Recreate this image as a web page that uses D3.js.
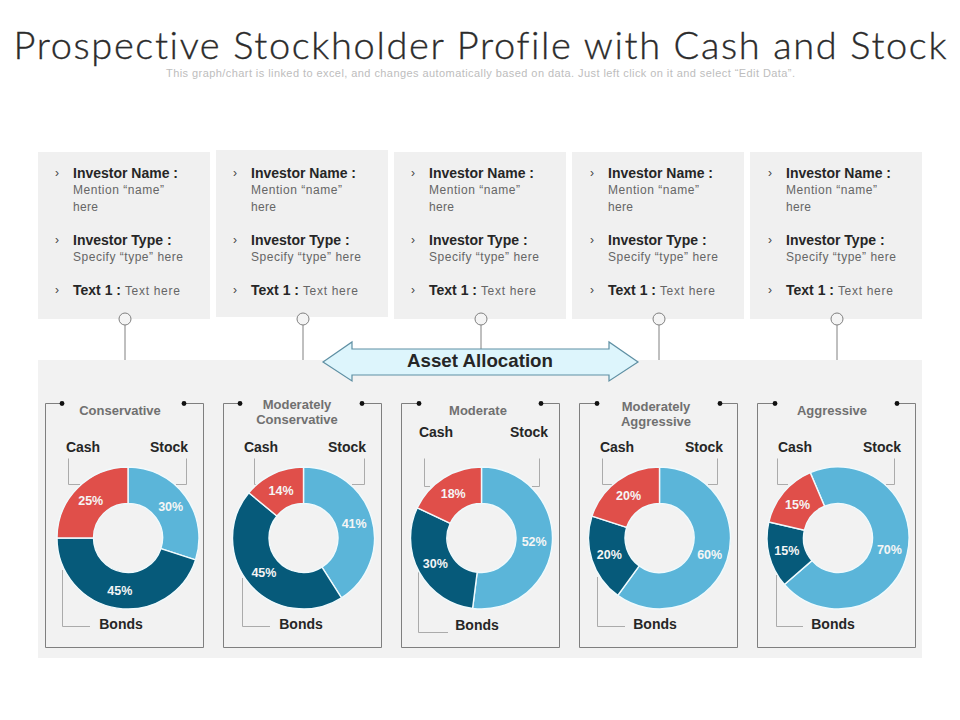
<!DOCTYPE html>
<html><head><meta charset="utf-8">
<script src="https://cdnjs.cloudflare.com/ajax/libs/d3/7.8.5/d3.min.js"></script>
<style>html,body{margin:0;padding:0;background:#fff}svg{display:block}text{font-family:"Liberation Sans",Arial,sans-serif}</style>
</head><body><svg id="c" width="960" height="720"></svg>
<script>
const profiles = [["Conservative"],["Moderately","Conservative"],["Moderate"],["Moderately","Aggressive"],["Aggressive"]];
const assets = ["Stock","Bonds","Cash"];
const stock = [30,41,52,60,70];
const bonds = [45,45,30,20,15];
const cash  = [25,14,18,20,15];
const titleText = "Prospective Stockholder Profile with Cash and Stock";
const subText = "This graph/chart is linked to excel, and changes automatically based on data. Just left click on it and select \u201CEdit Data\u201D.";

// layout (not data)
const color = d3.scaleOrdinal().domain(assets).range(["#5BB5D9","#065A7A","#E04F4A"]);
const col = d3.scaleLinear().domain([0,4]).range([0,712]);
const svg = d3.select("#c");
const cardTop = [152,150,152,152,152];
const textShift = [0,0,0,1,1];
const centers = [128,303.5,481.5,659.5,838];
const startDeg = [0,0,0,0,-23];
const stemX = [125,303,481,659,837];
const titleX = [120,297,478,656,832];
const titleY = [[415],[409,424],[414.5],[411,426],[414.5]];
const headY = [452,452,437,452,452];
const cashX = [83,261,436,617,795];
const stockX = [169,347,529,704,882];
const bondsX = [121,301,477,655,833];
const bondsY = [629,629,630,629,629];
const cashLead = [[68,80],[254,263],[424,430],[602,612],[777,788]];
const stockLead = [[186,176],[364,352],[539,532],[717,708],[894,886]];
const bondLead = [[62,90,570,626],[242,270,578,626],[418,448,572,632],[597,625,577,626],[776,803,575,626]];
const dots = [[62,184],[240,362],[419,541],[597,720],[775,897]];

svg.append("text").attr("x",480).attr("y",59).attr("text-anchor","middle")
  .attr("textLength",933).attr("lengthAdjust","spacing")
  .style("font-family","Lato").style("font-weight",300).style("font-variant-ligatures","none").style("font-size","38px")
  .attr("fill","#2b2b2b").attr("stroke","#2b2b2b").attr("stroke-width",0.35).text(titleText);
svg.append("text").attr("x",480.5).attr("y",77).attr("text-anchor","middle")
  .attr("textLength",629).attr("lengthAdjust","spacing")
  .style("font-size","11px").attr("fill","#bdbdbd").text(subText);

// cards
profiles.forEach((p,i)=>{
  const x = 38 + col(i);
  svg.append("rect").attr("x",x).attr("y",cardTop[i]).attr("width",172).attr("height",167).attr("fill","#F0F0F0");
  const g = svg.append("g").attr("transform",`translate(${x+textShift[i]},0)`);
  const bullet = y => g.append("text").attr("x",17).attr("y",y).attr("font-size",12).attr("fill","#444").text("\u203A");
  const bold = (s,y)=>g.append("text").attr("x",35).attr("y",y).attr("font-size",14).attr("font-weight",700).attr("fill","#262626").text(s);
  const reg = (s,y,len)=>g.append("text").attr("x",35).attr("y",y).attr("font-size",12).attr("fill","#666")
     .attr("textLength",len).attr("lengthAdjust","spacing").text(s);
  bullet(177); bold("Investor Name :",178);
  reg("Mention \u201Cname\u201D",194,91); reg("here",211,25);
  bullet(244); bold("Investor Type :",245);
  reg("Specify \u201Ctype\u201D here",261,110);
  bullet(294);
  const t = g.append("text").attr("x",35).attr("y",295).attr("font-size",14).attr("fill","#262626");
  t.append("tspan").attr("font-weight",700).text("Text 1 : ");
  t.append("tspan").attr("font-size",12).attr("fill","#666").attr("letter-spacing",0.7).text("Text here");
});

// panel
svg.append("rect").attr("x",38).attr("y",360).attr("width",884).attr("height",298).attr("fill","#F2F2F2");

// stems
stemX.forEach(x=>{
  svg.append("line").attr("x1",x).attr("x2",x).attr("y1",325).attr("y2",360).attr("stroke","#808080").attr("stroke-width",1);
  svg.append("circle").attr("cx",x).attr("cy",319).attr("r",6).attr("fill","#F4F4F4").attr("stroke","#808080").attr("stroke-width",1);
});

// arrow
svg.append("path")
 .attr("d","M323,362 L352,342 L352,349 L609,349 L609,342 L638,362 L609,381 L609,375 L352,375 L352,381 Z")
 .attr("fill","#DDF5FC").attr("stroke","#5E8FA3").attr("stroke-width",1.2);
svg.append("text").attr("x",480).attr("y",367).attr("text-anchor","middle").attr("font-size",19).attr("font-weight",700)
  .attr("textLength",146).attr("lengthAdjust","spacingAndGlyphs").attr("fill","#262626").text("Asset Allocation");

const arc = d3.arc().innerRadius(34.5).outerRadius(71);

profiles.forEach((p,i)=>{
  const fx = 45 + col(i);
  const [d1,d2] = dots[i];
  svg.append("path").attr("d",`M${d1},403.5 H${fx+.5} V647.5 H${fx+158.5} V403.5 H${d2}`)
    .attr("fill","none").attr("stroke","#7f7f7f").attr("stroke-width",1);
  [d1,d2].forEach(d=>svg.append("circle").attr("cx",d).attr("cy",403.5).attr("r",2.4).attr("fill","#111"));
  p.forEach((s,k)=>svg.append("text").attr("x",titleX[i]).attr("y",titleY[i][k]).attr("text-anchor","middle")
    .attr("font-size",13).attr("font-weight",700).attr("fill","#707070").text(s));
  const ly = i===2?486:484, ty = 458.5;
  const lead = d3.line();
  const lc = "#ababab";
  svg.append("path").attr("d",lead([[cashLead[i][0]+.5,ty],[cashLead[i][0]+.5,ly+.5],[cashLead[i][1],ly+.5]])).attr("fill","none").attr("stroke",lc);
  svg.append("path").attr("d",lead([[stockLead[i][0]+.5,ty],[stockLead[i][0]+.5,ly+.5],[stockLead[i][1],ly+.5]])).attr("fill","none").attr("stroke",lc);
  const b = bondLead[i];
  svg.append("path").attr("d",lead([[b[0]+.5,b[2]],[b[0]+.5,b[3]+.5],[b[1],b[3]+.5]])).attr("fill","none").attr("stroke",lc);
  const head = (s,x,y)=>svg.append("text").attr("x",x).attr("y",y).attr("text-anchor","middle").attr("font-size",14).attr("font-weight",700).attr("fill","#262626").text(s);
  head("Cash",cashX[i],headY[i]); head("Stock",stockX[i],headY[i]); head("Bonds",bondsX[i],bondsY[i]);
  const rows = [{k:"Stock",v:stock[i]},{k:"Bonds",v:bonds[i]},{k:"Cash",v:cash[i]}];
  const a0 = startDeg[i]*Math.PI/180;
  const pie = d3.pie().sort(null).value(d=>d.v).startAngle(a0).endAngle(a0+2*Math.PI);
  const g = svg.append("g").attr("transform",`translate(${centers[i]},538)`);
  const arcs = pie(rows);
  g.selectAll("path").data(arcs).join("path").attr("d",arc).attr("fill",d=>color(d.data.k))
    .attr("stroke","#F0FAFD").attr("stroke-width",1.4);
  g.selectAll("text").data(arcs).join("text")
    .attr("transform",d=>`translate(${arc.centroid(d)})`)
    .attr("text-anchor","middle").attr("dy","0.36em")
    .attr("font-size",12.5).attr("font-weight",700).attr("fill","#F5F5F5")
    .text(d=>d.data.v+"%");
});
</script></body></html>
